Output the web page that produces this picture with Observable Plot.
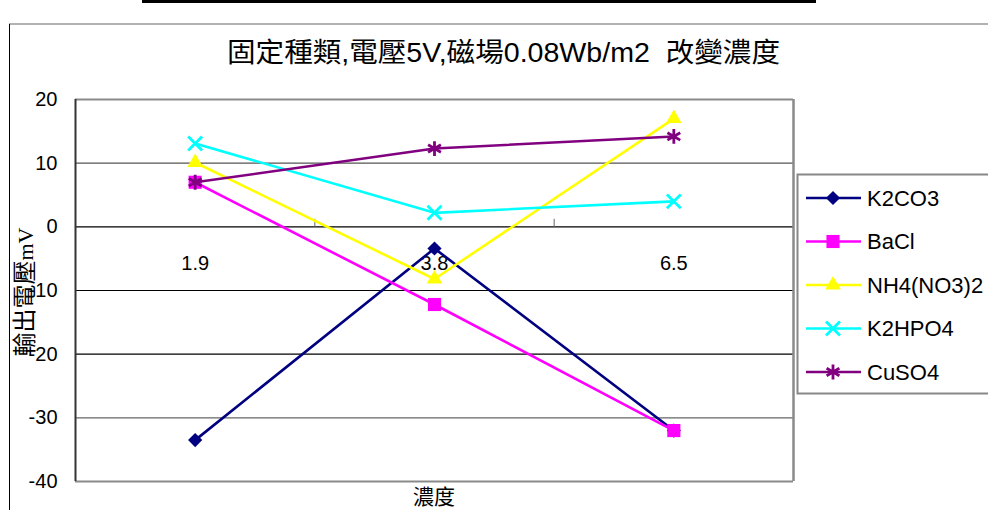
<!DOCTYPE html>
<html>
<head>
<meta charset="utf-8">
<script src="https://cdn.jsdelivr.net/npm/d3@7"></script>
<script src="https://cdn.jsdelivr.net/npm/@observablehq/plot@0.6"></script>
<style>
  html, body { margin: 0; padding: 0; background: #fff; }
  #chart { width: 988px; height: 510px; overflow: hidden; }
</style>
</head>
<body>
<div id="chart"></div>
<script>
// Concentration categories along x
const concentrations = ["1.9", "3.8", "6.5"];
// Series names (legend order)
const seriesNames = ["K2CO3", "BaCl", "NH4(NO3)2", "K2HPO4", "CuSO4"];
// Output voltage (mV) per series at each concentration
const k2co3 = [-33.5, -3.4, -32.0];
const bacl = [7.0, -12.2, -32.0];
const nh4no3 = [10.1, -8.2, 17.0];
const k2hpo4 = [13.1, 2.2, 4.0];
const cuso4 = [7.0, 12.3, 14.2];
// Y axis ticks
const yTicks = [20, 10, 0, -10, -20, -30, -40];

const titleText = "固定種類,電壓5V,磁場0.08Wb/m2  改變濃度";
const xTitle = "濃度";

const latin = "'Liberation Sans', Arial, 'Noto Sans CJK TC', sans-serif";

// Appearance of each series
const styles = [
  {color: "#000080", symbol: "diamond2", d3sym: d3.symbolDiamond2, filled: true, r: 6.4},
  {color: "#ff00ff", symbol: "square", d3sym: d3.symbolSquare, filled: true, r: 7.4},
  {color: "#ffff00", symbol: "triangle", d3sym: d3.symbolTriangle, filled: true, r: 5.8},
  {color: "#00ffff", symbol: "times", d3sym: d3.symbolTimes, filled: false, r: 6.4},
  {color: "#800080", symbol: "asterisk", d3sym: d3.symbolAsterisk, filled: false, r: 7}
];
const seriesValues = [k2co3, bacl, nh4no3, k2hpo4, cuso4];

// Category position: centre of each slot on a 0..n scale
const pos = (d, i) => i + 0.5;

// Small upward tick at category boundaries on the zero line
const boundaryTick = {draw(ctx) { ctx.moveTo(0, 0); ctx.lineTo(0, -8); }};

const gridStroke = {"20": "#8a8a8a", "10": "#555", "0": "#000", "-10": "#000", "-20": "#000", "-30": "#666", "-40": "#8a8a8a"};
const gridWidth = {"20": 2, "10": 1.2, "0": 1.2, "-10": 1.2, "-20": 1.2, "-30": 1.2, "-40": 2};

const seriesMarks = seriesValues.flatMap((vals, k) => {
  const s = styles[k];
  return [
    Plot.lineY(vals, {x: pos, y: d => d, stroke: s.color, strokeWidth: 2.6}),
    Plot.dot(vals, {
      x: pos, y: d => d, symbol: s.symbol, r: s.r,
      fill: s.filled ? s.color : "none",
      stroke: s.filled ? "none" : s.color,
      strokeWidth: s.filled ? 0 : 2.8
    })
  ];
});

const boundaries = d3.range(1, concentrations.length);

const chart = Plot.plot({
  width: 988,
  height: 510,
  marginLeft: 75,
  marginRight: 195,
  marginTop: 99,
  marginBottom: 29,
  style: {fontFamily: latin, fontSize: "20px", background: "#fff", color: "#000", overflow: "hidden"},
  x: {domain: [0, concentrations.length], axis: null},
  y: {domain: [-40, 20]},
  marks: [
    Plot.ruleY(yTicks, {stroke: d => gridStroke[d], strokeWidth: d => gridWidth[d]}),
    Plot.ruleX([concentrations.length], {stroke: "#8a8a8a", strokeWidth: 2.5}),
    Plot.ruleX([0], {stroke: "#333", strokeWidth: 2}),
    Plot.dot(boundaries, {x: d => d, y: 0, symbol: boundaryTick, fill: "none", stroke: "#666", strokeWidth: 1}),
    Plot.text(concentrations, {x: pos, y: 0, dy: 37, text: d => d, fontSize: 20, fill: "#000", fontFamily: latin}),
    Plot.axisY({ticks: yTicks, tickSize: 0, tickPadding: 18, tickFormat: d => String(d), fontSize: 20, label: null, fontFamily: latin}),
    ...seriesMarks
  ]
});

document.getElementById("chart").appendChild(chart);

const svg = d3.select(chart);

// Frame decorations around the chart area
svg.append("rect").attr("x", 142).attr("y", 0).attr("width", 674).attr("height", 3).attr("fill", "#000");
svg.append("line").attr("x1", 9).attr("y1", 24).attr("x2", 988).attr("y2", 24).attr("stroke", "#999").attr("stroke-width", 1.5);
svg.append("line").attr("x1", 9.5).attr("y1", 24).attr("x2", 9.5).attr("y2", 510).attr("stroke", "#000").attr("stroke-width", 1);

// Title
svg.append("text")
  .attr("x", 227).attr("y", 62)
  .attr("text-anchor", "start")
  .attr("font-family", latin)
  .attr("font-size", 27)
  .attr("fill", "#000")
  .attr("textLength", 553)
  .attr("lengthAdjust", "spacingAndGlyphs")
  .attr("xml:space", "preserve")
  .style("white-space", "pre")
  .text(titleText);

// Y axis title
const yTitle = svg.append("text")
  .attr("transform", "translate(33,292) rotate(-90)")
  .attr("text-anchor", "middle")
  .attr("fill", "#000");
yTitle.append("tspan").attr("font-family", "'Noto Sans CJK TC', sans-serif").attr("font-size", 24).text("輸出電壓");
yTitle.append("tspan").attr("font-family", "'Liberation Serif', 'Times New Roman', serif").attr("font-size", 22).text("mV");

// X axis title
svg.append("text")
  .attr("x", 434).attr("y", 504)
  .attr("text-anchor", "middle")
  .attr("font-family", "'Noto Sans CJK TC', sans-serif")
  .attr("font-size", 21)
  .attr("fill", "#000")
  .text(xTitle);

// Legend
svg.append("rect")
  .attr("x", 797.5).attr("y", 174.5).attr("width", 230).attr("height", 219)
  .attr("fill", "#fff").attr("stroke", "#888").attr("stroke-width", 2);

seriesNames.forEach((name, k) => {
  const s = styles[k];
  const cy = 198 + k * 43.5;
  const g = svg.append("g");
  g.append("line").attr("x1", 806).attr("x2", 861).attr("y1", cy).attr("y2", cy)
    .attr("stroke", s.color).attr("stroke-width", 2.6);
  g.append("path")
    .attr("transform", `translate(833,${cy})`)
    .attr("d", d3.symbol(s.d3sym, Math.PI * s.r * s.r)())
    .attr("fill", s.filled ? s.color : "none")
    .attr("stroke", s.filled ? "none" : s.color)
    .attr("stroke-width", s.filled ? 0 : 2.8);
  g.append("text")
    .attr("x", 867).attr("y", cy).attr("dy", "0.36em")
    .attr("text-anchor", "start")
    .attr("font-family", latin).attr("font-size", 22).attr("fill", "#000")
    .text(name);
});
</script>
</body>
</html>
